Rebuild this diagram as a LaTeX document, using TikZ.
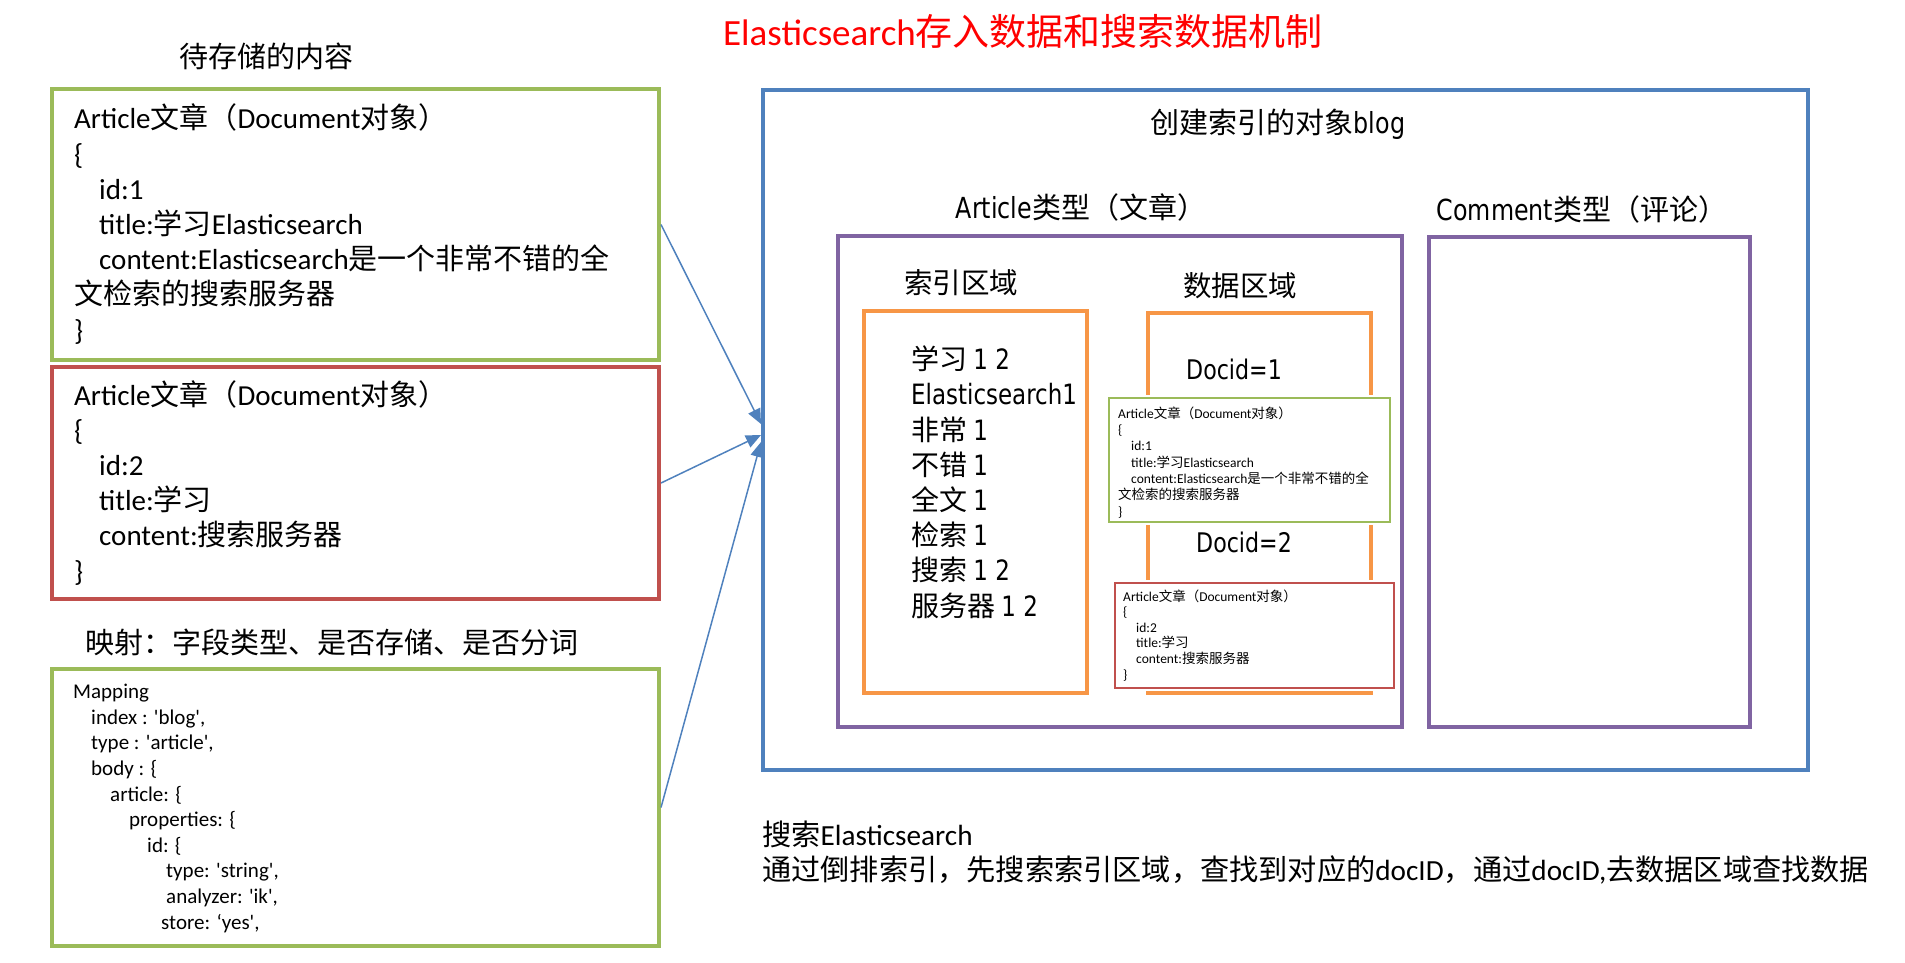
\documentclass[tikz,border=0pt]{standalone}
\usepackage{fontspec}
\usetikzlibrary{arrows.meta}
\setmainfont{Carlito}
\newfontfamily\calfont{Carlito}
\newfontfamily\verfont{DejaVu Sans}[FakeStretch=0.82]
\newfontfamily\cjkmain{Noto Sans CJK SC}
\def\latfam{\calfont}
\def\cjkfam{\cjkmain}
% switch to the CJK font for Chinese characters
\newXeTeXintercharclass\cjkclass
\makeatletter
\def\setcjkrange#1#2{\count@=#1\relax
  \loop\XeTeXcharclass\count@=\cjkclass
    \advance\count@\@ne
  \ifnum\count@<#2\relax\repeat}
\setcjkrange{"3000}{"3040}
\setcjkrange{"4E00}{"A000}
\setcjkrange{"FF00}{"FFF0}
\makeatother
\XeTeXinterchartoks 0 \cjkclass = {\cjkfam}
\XeTeXinterchartoks 4095 \cjkclass = {\cjkfam}
\XeTeXinterchartoks \cjkclass 0 = {\latfam}
\XeTeXinterchartoks 4095 0 = {\latfam}
\XeTeXinterchartokenstate=1
\newcommand\calsize[2]{\def\latfam{\calfont}\fontsize{#1}{#2}\selectfont}
\newcommand\versize[2]{\def\latfam{\verfont}\fontsize{#1}{#2}\selectfont}
\definecolor{docgreen}{HTML}{9BBB59}
\definecolor{docred}{HTML}{C0504D}
\definecolor{idxblue}{HTML}{4F81BD}
\definecolor{typepurple}{HTML}{8064A2}
\definecolor{areaorange}{HTML}{F79646}
\begin{document}
\begin{tikzpicture}[x=1pt,y=-1pt,
  frm/.style={draw,line width=4pt,inner sep=0pt,fill=white},
  sfrm/.style={draw,line width=2pt,inner sep=0pt,fill=white,preaction={draw=white,line width=6pt}},
  body/.style={anchor=base west,inner sep=0pt,align=left},
  ttl/.style={inner sep=0pt},
  link/.style={draw=idxblue,line width=1.5pt,-{Triangle[length=15pt,width=13pt]}}]
\useasboundingbox (0,0) rectangle (1905,963);
% left column: content to be stored (text nodes sit on their last baseline)
\node[ttl,font=\calsize{37}{42},text=red] (title) at (1023,31) {Elasticsearch存入数据和搜索数据机制};
\node[ttl,font=\calsize{29}{35}] (store) at (266,56) {待存储的内容};
\node[frm,draw=docgreen,minimum width=607pt,minimum height=271pt] (doc1) at (355.5,224.5) {};
\node[frm,draw=docred,minimum width=607pt,minimum height=232pt] (doc2) at (355.5,483) {};
\node[body,font=\calsize{29}{35.2}] (doc1txt) at (74,340) {Article文章（Document对象）\\
\{\\
\hspace*{25pt}id:1\\
\hspace*{25pt}title:学习Elasticsearch\\
\hspace*{25pt}content:Elasticsearch是一个非常不错的全\\
文检索的搜索服务器\\
\}};
\node[body,font=\calsize{29}{35.2}] (doc2txt) at (74,581) {Article文章（Document对象）\\
\{\\
\hspace*{25pt}id:2\\
\hspace*{25pt}title:学习\\
\hspace*{25pt}content:搜索服务器\\
\}};
\node[ttl,font=\calsize{29}{35}] (maphead) at (332,642) {映射：字段类型、是否存储、是否分词};
\node[frm,draw=docgreen,minimum width=607pt,minimum height=277pt] (map) at (355.5,807.5) {};
\node[body,font=\calsize{21}{25.6}] (maptxt) at (73,929) {Mapping\\
\hspace*{18pt}index : 'blog',\\
\hspace*{18pt}type : 'article',\\
\hspace*{18pt}body : \{\\
\hspace*{37pt}article: \{\\
\hspace*{56pt}properties: \{\\
\hspace*{74pt}id: \{\\
\hspace*{93pt}type: 'string',\\
\hspace*{93pt}analyzer: 'ik',\\
\hspace*{88pt}store: ‘yes',};
% right part: the index blog
\node[frm,draw=idxblue,minimum width=1045pt,minimum height=680pt] (blog) at (1285.5,430) {};
\node[ttl,font=\versize{29}{35}] (bloghead) at (1278,124) {创建索引的对象blog};
\node[ttl,font=\versize{29}{35}] (arthead) at (1081,207) {Article类型（文章）};
\node[ttl,font=\versize{29}{35}] (comhead) at (1582,209) {Comment类型（评论）};
\node[frm,draw=typepurple,minimum width=564pt,minimum height=491pt] (arttype) at (1120,481.5) {};
\node[frm,draw=typepurple,minimum width=321pt,minimum height=490pt] (comtype) at (1589.5,482) {};
\node[ttl,font=\calsize{28.5}{34}] (idxhead) at (961,283) {索引区域};
\node[ttl,font=\calsize{28.5}{34}] (datahead) at (1240,286) {数据区域};
\node[frm,draw=areaorange,minimum width=223pt,minimum height=382pt] (idxarea) at (975.5,502) {};
\node[frm,draw=areaorange,minimum width=223pt,minimum height=380pt] (dataarea) at (1259.5,503) {};
\node[body,font=\versize{28}{35.2}] (idxtxt) at (911,616) {学习 1 2\\Elasticsearch1\\非常 1\\不错 1\\全文 1\\检索 1\\搜索 1 2\\服务器 1 2};
\node[ttl,font=\versize{27}{32}] (id1) at (1234,369) {Docid=1};
\node[ttl,font=\versize{27}{32}] (id2) at (1244,542) {Docid=2};
\node[sfrm,draw=docgreen,minimum width=281pt,minimum height=124pt] (sdoc1) at (1249.5,460) {};
\node[sfrm,draw=docred,minimum width=279pt,minimum height=105pt] (sdoc2) at (1254.5,635.5) {};
\node[body,font=\calsize{13.5}{16.3}] (sdoc1txt) at (1118,516) {Article文章（Document对象）\\
\{\\
\hspace*{13pt}id:1\\
\hspace*{13pt}title:学习Elasticsearch\\
\hspace*{13pt}content:Elasticsearch是一个非常不错的全\\
文检索的搜索服务器\\
\}};
\node[body,font=\calsize{13.5}{15.6}] (sdoc2txt) at (1123,679) {Article文章（Document对象）\\
\{\\
\hspace*{13pt}id:2\\
\hspace*{13pt}title:学习\\
\hspace*{13pt}content:搜索服务器\\
\}};
% search
\node[body,font=\calsize{29.2}{35}] (search) at (762,880) {搜索Elasticsearch\\
通过倒排索引，先搜索索引区域，查找到对应的docID，通过docID,去数据区域查找数据};
\draw[link] (doc1.east) -- ([yshift=6]blog.west);
\draw[link] (doc2.east) -- ([yshift=-5]blog.west);
\draw[link] (map.east) -- ([yshift=-12]blog.west);
\end{tikzpicture}
\end{document}
